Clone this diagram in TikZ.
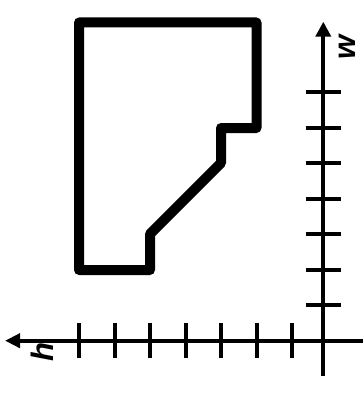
\documentclass[tikz,border=0pt]{standalone}
\usepackage{fontspec}
\setmainfont{Liberation Sans}
\usetikzlibrary{arrows.meta}
\begin{document}
\begin{tikzpicture}[x=1pt,y=-1pt,
  shapeline/.style={line width=10pt,line join=round,line cap=round},
  axisline/.style={line width=4pt},
  tickline/.style={line width=4pt},
  axlabel/.style={font=\fontsize{31}{31}\selectfont\bfseries\itshape,inner sep=0pt,rotate=90}]
\useasboundingbox (0,0) rectangle (363,396);
% outline
\draw[shapeline] (79,22.5) -- (256.5,22.5) -- (256.5,128) -- (221,128) -- (221,163)
  -- (150,234) -- (150,270) -- (79,270) -- cycle;
% axes
\coordinate (hR) at (363,340.7);
\coordinate (hL) at (5,340.7);
\coordinate (vB) at (323.3,376);
\coordinate (vT) at (323.3,21.7);
\draw[axisline,-{Triangle[length=15pt,width=14pt]}] (hR) -- (hL);
\draw[axisline,-{Triangle[length=15pt,width=15pt]}] (vB) -- (vT);
% ticks
\foreach \x in {79,114.5,150,185.5,221,256.5,292}
  \draw[tickline] (\x,323.2) -- (\x,358.2);
\foreach \y in {92,127.5,163,198.5,234,269.5,305}
  \draw[tickline] (305.5,\y) -- (341,\y);
% labels
\node[axlabel] (wl) at (347.5,47) {w};
\node[axlabel] (hl) at (42,352) {h};
\end{tikzpicture}
\end{document}
